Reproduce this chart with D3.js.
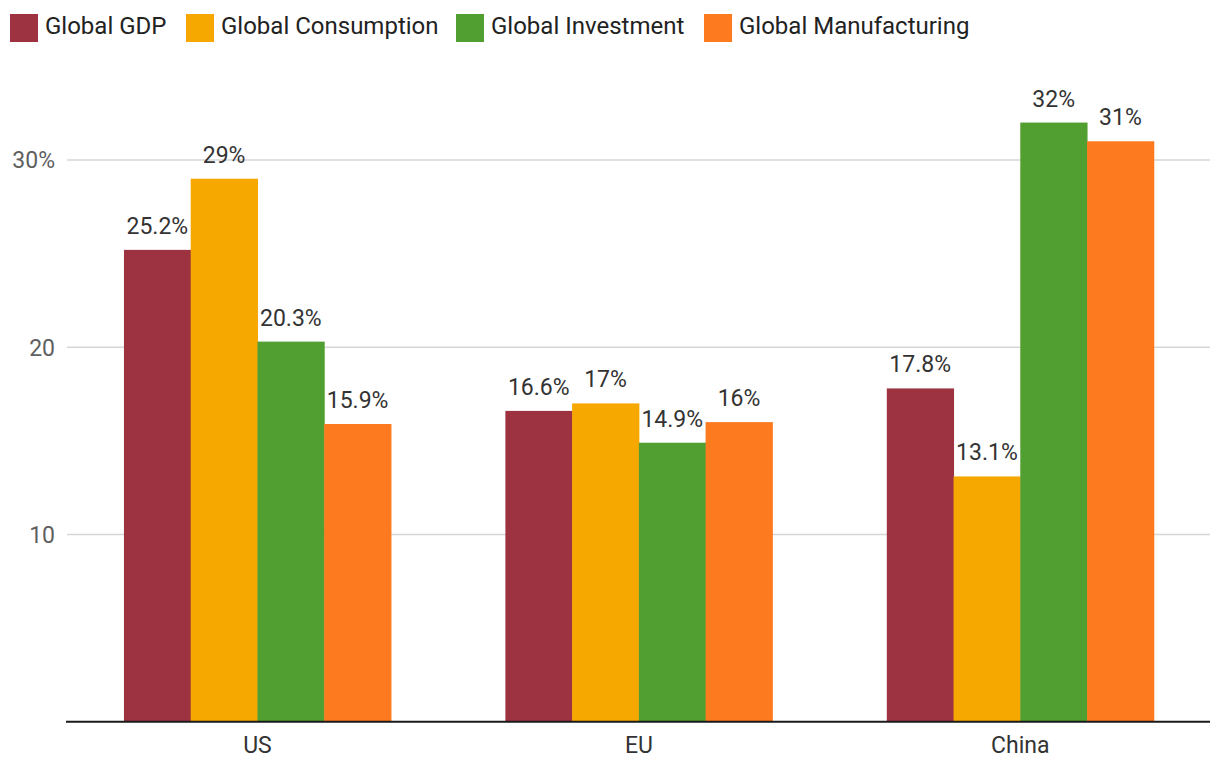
<!DOCTYPE html>
<html>
<head>
<meta charset="utf-8">
<script src="https://cdn.jsdelivr.net/npm/d3@7"></script>
<style>
  html, body { margin: 0; padding: 0; background: #fff; }
  svg { display: block; font-family: Roboto, "Noto Sans", sans-serif; }
</style>
</head>
<body>
<svg id="chart" width="1220" height="778"></svg>
<script>
const categories = ["US", "EU", "China"];
const seriesNames = ["Global GDP", "Global Consumption", "Global Investment", "Global Manufacturing"];
const seriesColors = ["#9d3341", "#f7a800", "#519e31", "#fd7a1f"];
const gdp = [25.2, 16.6, 17.8];
const consumption = [29, 17, 13.1];
const investment = [20.3, 14.9, 32];
const manufacturing = [15.9, 16, 31];
const tickValues = [10, 20, 30];
const tickLabels = ["10", "20", "30%"];

const seriesValues = [gdp, consumption, investment, manufacturing];

const svg = d3.select("#chart");

const x = d3.scaleBand().domain(categories).range([66.75, 1211]).paddingInner(0.3).paddingOuter(0.15);
const xs = d3.scaleBand().domain(seriesNames).range([0, x.bandwidth()]);
const y = d3.scaleLinear().domain([0, 30]).range([721.7, 160]);

// gridlines
svg.append("g").selectAll("line").data(tickValues).join("line")
  .attr("x1", 67).attr("x2", 1210)
  .attr("y1", d => y(d)).attr("y2", d => y(d))
  .attr("stroke", "#d6d6d6").attr("stroke-width", 1.4);

// y labels
svg.append("g").selectAll("text").data(tickValues).join("text")
  .attr("x", 55).attr("y", d => y(d))
  .attr("dy", "0.36em")
  .attr("text-anchor", "end")
  .attr("fill", "#5f5f5f")
  .attr("font-size", 23)
  .text((d, i) => tickLabels[i]);

// bars
const groups = svg.append("g").selectAll("g").data(categories).join("g")
  .attr("transform", d => `translate(${x(d)},0)`);

groups.each(function(cat, ci) {
  const g = d3.select(this);
  const data = seriesNames.map((s, si) => ({ s, si, v: seriesValues[si][ci] }));
  g.selectAll("rect").data(data).join("rect")
    .attr("x", d => xs(d.s))
    .attr("y", d => y(d.v))
    .attr("width", xs.bandwidth() + 0.5)
    .attr("height", d => y(0) - y(d.v))
    .attr("fill", d => seriesColors[d.si]);
  g.selectAll("text").data(data).join("text")
    .attr("x", d => xs(d.s) + xs.bandwidth() / 2)
    .attr("y", d => y(d.v) - 16)
    .attr("text-anchor", "middle")
    .attr("fill", "#333")
    .attr("font-size", 23)
    .text(d => d.v + "%");
});

// baseline
svg.append("line")
  .attr("x1", 66).attr("x2", 1210)
  .attr("y1", y(0)).attr("y2", y(0))
  .attr("stroke", "#1a1a1a").attr("stroke-width", 2);

// x labels
svg.append("g").selectAll("text").data(categories).join("text")
  .attr("x", d => x(d) + x.bandwidth() / 2)
  .attr("y", 753)
  .attr("text-anchor", "middle")
  .attr("fill", "#333")
  .attr("font-size", 23)
  .text(d => d);

// legend
const legendX = [10, 186, 456, 704];
const leg = svg.append("g").selectAll("g").data(seriesNames).join("g")
  .attr("transform", (d, i) => `translate(${legendX[i]},14)`);
leg.append("rect").attr("width", 28).attr("height", 28).attr("fill", (d, i) => seriesColors[i]);
leg.append("text").attr("x", 35).attr("y", 20)
  .attr("fill", "#222").attr("font-size", 24).text(d => d);
</script>
</body>
</html>
